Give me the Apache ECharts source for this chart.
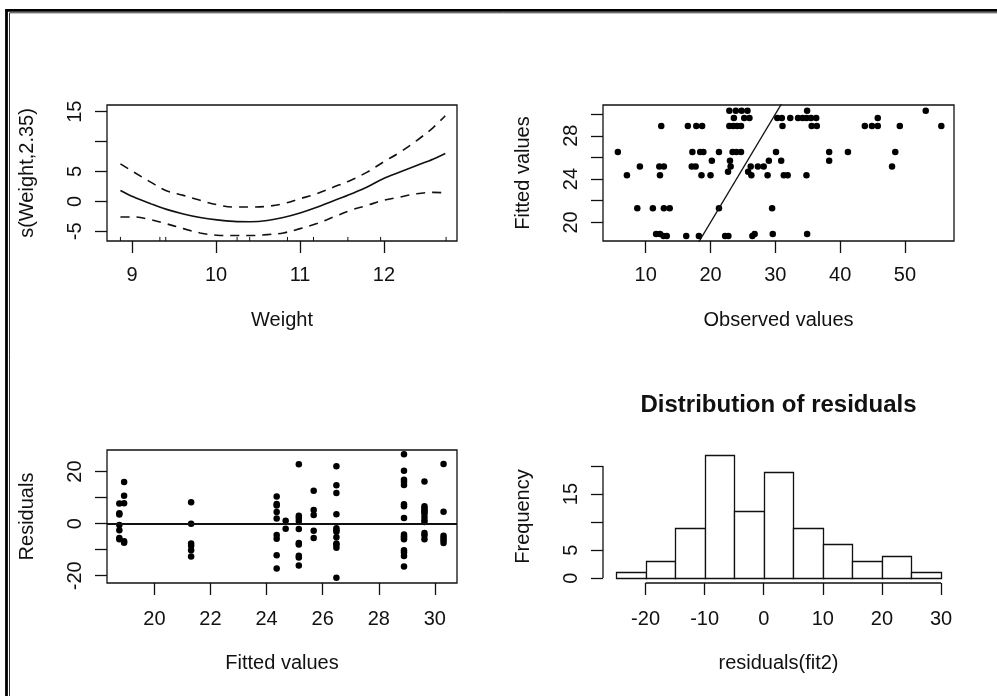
<!DOCTYPE html>
<html>
<head>
<meta charset="utf-8">
<script src="https://cdn.jsdelivr.net/npm/echarts@6/dist/echarts.min.js"></script>
<style>
  html, body { margin: 0; padding: 0; background: #fff; }
  #chart { width: 997px; height: 696px; }
</style>
</head>
<body>
<div id="chart"></div>
<script>
// ---- Smooth term s(Weight, 2.35) with its +/- 2 SE band ----
const weightGrid = [8.86, 9.02, 9.22, 9.40, 9.61, 9.81, 10.01, 10.21, 10.41, 10.61, 10.80, 11.00, 11.20, 11.40, 11.60, 11.80, 11.99, 12.19, 12.39, 12.59, 12.73];
const smoothFit  = [1.83, 0.72, -0.39, -1.30, -2.10, -2.70, -3.10, -3.35, -3.40, -3.20, -2.70, -1.95, -1.00, 0.10, 1.20, 2.40, 3.80, 4.90, 6.00, 7.10, 8.00];
const smoothUpper = [6.28, 4.89, 3.22, 1.83, 1.00, 0.17, -0.56, -0.94, -0.94, -0.83, -0.39, 0.44, 1.28, 2.39, 3.50, 4.89, 6.56, 8.22, 10.17, 12.39, 14.33];
const smoothLower = [-2.61, -2.61, -3.06, -3.72, -4.56, -5.28, -5.67, -5.72, -5.72, -5.56, -5.28, -4.56, -3.72, -2.61, -1.50, -0.67, 0.17, 0.72, 1.28, 1.50, 1.44];
// observed Weight values shown as a rug
const weightRug = [8.86, 9.33, 9.40, 10.25, 10.40, 10.85, 11.16, 11.57, 11.96, 12.74];

// ---- Fitted values of fit2 and the observations at each fitted level ----
const fittedLevels = [18.75, 18.92, 21.31, 24.36, 24.68, 25.15, 25.68, 26.49, 28.90, 29.63, 30.31];
const observedByLevel = [
  [12.75, 13.25, 16.25, 18.2, 22.25, 22.75, 26.45],
  [11.6, 12.2, 26.8, 29.6, 34.9],
  [8.7, 11.1, 12.8, 13.7, 21.3, 29.5],
  [7.1, 12.2, 18.6, 20.0, 26.3, 28.8, 31.3, 31.9, 34.8],
  [22.7, 25.8],
  [9.1, 12.1, 12.8, 17.1, 17.7, 23.1, 26.2, 27.3, 28.2, 48.0],
  [20.2, 23.0, 29.0, 30.9, 38.3],
  [5.7, 17.2, 18.4, 18.9, 21.3, 23.4, 24.0, 24.7, 30.1, 38.3, 41.2, 48.5],
  [12.4, 16.5, 17.8, 18.7, 22.9, 23.5, 24.1, 24.7, 31.1, 35.6, 36.4, 43.8, 44.9, 45.8, 49.2, 55.6],
  [23.6, 25.2, 26.0, 30.3, 31.0, 32.3, 33.5, 34.2, 34.8, 35.5, 36.3, 45.8],
  [22.9, 23.9, 24.8, 25.7, 34.9, 53.2]
];

// ---- Histogram of residuals(fit2) ----
const histBreaks = [-25, -20, -15, -10, -5, 0, 5, 10, 15, 20, 25, 30];
const histCounts = [1, 3, 9, 22, 12, 19, 9, 6, 3, 4, 1];

// ---- Axis ticks and labels ----
const p1XTicks = [9, 10, 11, 12];
const p1YTicks = [-5, 0, 5, 10, 15];
const p1YLabels = [-5, 0, 5, 15];
const p2XTicks = [10, 20, 30, 40, 50];
const p2YTicks = [20, 22, 24, 26, 28, 30];
const p2YLabels = [20, 24, 28];
const p3XTicks = [20, 22, 24, 26, 28, 30];
const p3YTicks = [-20, -10, 0, 10, 20];
const p3YLabels = [-20, 0, 20];
const p4XTicks = [-20, -10, 0, 10, 20, 30];
const p4YTicks = [0, 5, 10, 15, 20];
const p4YLabels = [0, 5, 15];

// plotting-region limits of each panel
const LIM = {
  p1x: [8.70, 12.87], p1y: [-6.63, 16.12],
  p2x: [3.41, 57.56], p2y: [18.28, 30.84],
  p3x: [18.31, 30.79], p3y: [-22.8, 28.3],
  p4x: [-27.2, 32.2], p4y: [-0.88, 22.88]
};

const FONT = '"Liberation Sans", Arial, Helvetica, sans-serif';
const INK = '#111';
const LW = 1.3;

const pairs = [];
fittedLevels.forEach((f, i) => observedByLevel[i].forEach(o => pairs.push([f, o])));
const obsVsFitted = pairs.map(p => [p[1], p[0]]);
const residVsFitted = pairs.map(p => [p[0], +(p[1] - p[0]).toFixed(2)]);

const GRIDS = [
  { left: 107, top: 105, width: 350, height: 136 },
  { left: 603, top: 105, width: 351, height: 136 },
  { left: 107, top: 450, width: 350, height: 133 },
  { left: 603, top: 450, width: 351, height: 133 }
];

function xAxis(gi, lim, ticks, labels, margin) {
  return {
    type: 'value', gridIndex: gi, min: lim[0], max: lim[1], position: 'bottom',
    axisLine: { show: false, onZero: false }, splitLine: { show: false },
    axisTick: { show: true, inside: false, length: 12, customValues: ticks, lineStyle: { color: INK, width: LW } },
    axisLabel: { customValues: labels, margin: margin, fontFamily: FONT, fontSize: 20, color: INK, formatter: v => String(v) }
  };
}
function yAxis(gi, lim, ticks, labels) {
  return {
    type: 'value', gridIndex: gi, min: lim[0], max: lim[1], position: 'left',
    axisLine: { show: false, onZero: false }, splitLine: { show: false },
    axisTick: { show: true, inside: false, length: 12, customValues: ticks, lineStyle: { color: INK, width: LW } },
    axisLabel: { customValues: labels, rotate: 90, margin: 22, fontFamily: FONT, fontSize: 20, color: INK, formatter: v => String(v) }
  };
}

function text(str, x, y, opts) {
  opts = opts || {};
  return {
    type: 'text', x: x, y: y, rotation: opts.rot || 0, silent: true,
    style: {
      text: str, fill: INK, textAlign: 'center', textVerticalAlign: 'middle',
      font: (opts.bold ? 'bold ' : '') + (opts.size || 20) + 'px ' + FONT
    }
  };
}

const option = {
  animation: false,
  backgroundColor: '#fff',
  grid: GRIDS.map((g, i) => Object.assign({
    show: i < 3, borderColor: INK, borderWidth: i < 3 ? LW : 0, backgroundColor: 'transparent'
  }, g)),
  xAxis: [
    xAxis(0, LIM.p1x, p1XTicks, p1XTicks, 24),
    xAxis(1, LIM.p2x, p2XTicks, p2XTicks, 24),
    xAxis(2, LIM.p3x, p3XTicks, p3XTicks, 26),
    xAxis(3, LIM.p4x, p4XTicks, p4XTicks, 26)
  ],
  yAxis: [
    yAxis(0, LIM.p1y, p1YTicks, p1YLabels),
    yAxis(1, LIM.p2y, p2YTicks, p2YLabels),
    yAxis(2, LIM.p3y, p3YTicks, p3YLabels),
    yAxis(3, LIM.p4y, p4YTicks, p4YLabels)
  ],
  series: [
    // smooth term and its confidence band
    {
      type: 'line', xAxisIndex: 0, yAxisIndex: 0, showSymbol: false, smooth: 0.35,
      data: weightGrid.map((w, i) => [w, smoothFit[i]]),
      lineStyle: { color: INK, width: 1.6 }, clip: true
    },
    {
      type: 'line', xAxisIndex: 0, yAxisIndex: 0, showSymbol: false, smooth: 0.35,
      data: weightGrid.map((w, i) => [w, smoothUpper[i]]),
      lineStyle: { color: INK, width: 1.6, type: [9, 7] }, clip: true
    },
    {
      type: 'line', xAxisIndex: 0, yAxisIndex: 0, showSymbol: false, smooth: 0.35,
      data: weightGrid.map((w, i) => [w, smoothLower[i]]),
      lineStyle: { color: INK, width: 1.6, type: [9, 7] }, clip: true
    },
    // rug of observed weights
    {
      type: 'custom', xAxisIndex: 0, yAxisIndex: 0, data: weightRug.map(w => [w]),
      renderItem: function (params, api) {
        const p = api.coord([api.value(0), LIM.p1y[0]]);
        const h = params.coordSys.height * 0.03;
        return { type: 'line', shape: { x1: p[0], y1: p[1], x2: p[0], y2: p[1] - h }, style: { stroke: INK, lineWidth: 1 } };
      }
    },
    // observed vs fitted with the identity line
    {
      type: 'scatter', xAxisIndex: 1, yAxisIndex: 1, data: obsVsFitted,
      symbol: 'circle', symbolSize: 6.5, itemStyle: { color: '#000', opacity: 1 }
    },
    {
      type: 'line', xAxisIndex: 1, yAxisIndex: 1, showSymbol: false, clip: true,
      data: [[LIM.p2x[0], LIM.p2x[0]], [LIM.p2x[1], LIM.p2x[1]]],
      lineStyle: { color: INK, width: LW }
    },
    // residuals vs fitted
    {
      type: 'scatter', xAxisIndex: 2, yAxisIndex: 2, data: residVsFitted,
      symbol: 'circle', symbolSize: 6.5, itemStyle: { color: '#000', opacity: 1 },
      markLine: {
        silent: true, symbol: 'none', label: { show: false },
        lineStyle: { color: INK, width: 2, type: 'solid' },
        data: [{ yAxis: 0 }]
      }
    },
    // histogram bars
    {
      type: 'custom', xAxisIndex: 3, yAxisIndex: 3,
      data: histCounts.map((c, i) => [histBreaks[i], histBreaks[i + 1], c]),
      renderItem: function (params, api) {
        const a = api.coord([api.value(0), 0]);
        const b = api.coord([api.value(1), api.value(2)]);
        return {
          type: 'rect',
          shape: { x: Math.round(a[0]) + 0.5, y: Math.round(b[1]) + 0.5, width: Math.round(b[0]) - Math.round(a[0]), height: Math.round(a[1]) - Math.round(b[1]) },
          style: { fill: '#fff', stroke: INK, lineWidth: LW }
        };
      }
    },
    // histogram axis lines spanning first to last tick
    {
      type: 'custom', xAxisIndex: 3, yAxisIndex: 3, data: [[0]],
      renderItem: function (params, api) {
        const x0 = api.coord([p4XTicks[0], LIM.p4y[0]]);
        const x1 = api.coord([p4XTicks[p4XTicks.length - 1], LIM.p4y[0]]);
        const y0 = api.coord([LIM.p4x[0], p4YTicks[0]]);
        const y1 = api.coord([LIM.p4x[0], p4YTicks[p4YTicks.length - 1]]);
        return {
          type: 'group', children: [
            { type: 'line', shape: { x1: x0[0], y1: x0[1], x2: x1[0], y2: x1[1] }, style: { stroke: INK, lineWidth: LW } },
            { type: 'line', shape: { x1: y0[0], y1: y0[1], x2: y1[0], y2: y1[1] }, style: { stroke: INK, lineWidth: LW } }
          ]
        };
      }
    }
  ],
  graphic: [
    // double frame around the figure
    { type: 'rect', silent: true, shape: { x: 6.5, y: 10.3, width: 1200, height: 900 }, style: { fill: 'none', stroke: '#000', lineWidth: 2.8 } },
    { type: 'rect', silent: true, shape: { x: 9.5, y: 12.8, width: 1200, height: 900 }, style: { fill: 'none', stroke: '#333', lineWidth: 1 } },
    // axis titles
    text('Weight', 282, 320),
    text('Observed values', 778.5, 320),
    text('Fitted values', 282, 663.5),
    text('residuals(fit2)', 778.5, 663.5),
    text('s(Weight,2.35)', 27, 173, { rot: Math.PI / 2 }),
    text('Fitted values', 523, 173, { rot: Math.PI / 2 }),
    text('Residuals', 27, 516.5, { rot: Math.PI / 2 }),
    text('Frequency', 523, 516.5, { rot: Math.PI / 2 }),
    text('Distribution of residuals', 778.5, 405, { bold: true, size: 24 })
  ]
};

const chart = echarts.init(document.getElementById('chart'), null, { renderer: 'canvas' });
chart.setOption(option);
</script>
</body>
</html>
